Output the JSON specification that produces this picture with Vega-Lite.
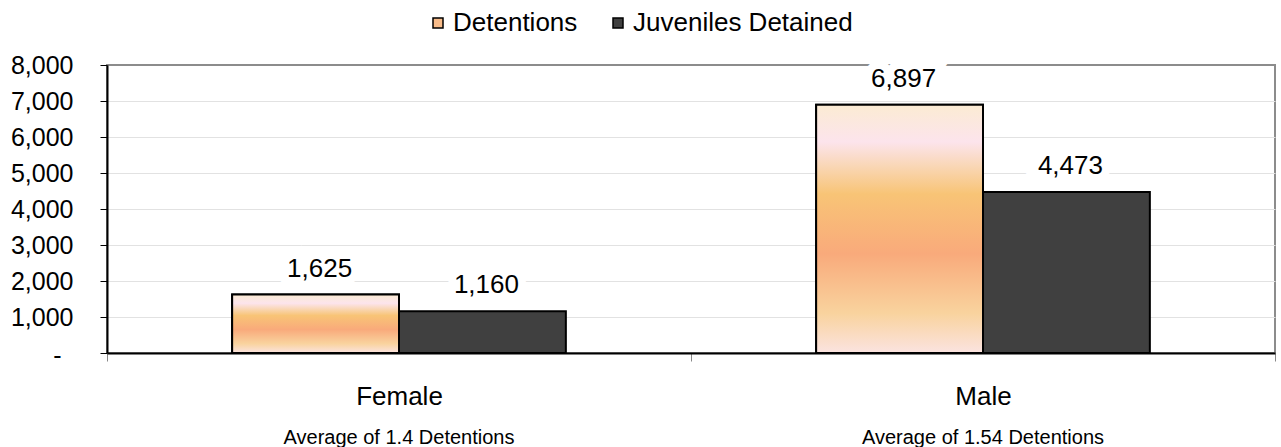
{
  "$schema": "https://vega.github.io/schema/vega-lite/v6.json",
  "width": 1168,
  "height": 288,
  "autosize": "none",
  "padding": {"left": 107, "top": 65, "right": 6, "bottom": 94},
  "config": {
    "font": "Liberation Sans",
    "view": {"stroke": "#8c8c8c", "strokeWidth": 2}
  },
  "data": {
    "values": [
      {"gender": "Female", "series": "Detentions", "value": 1625},
      {"gender": "Female", "series": "Juveniles Detained", "value": 1160},
      {"gender": "Male", "series": "Detentions", "value": 6897},
      {"gender": "Male", "series": "Juveniles Detained", "value": 4473}
    ]
  },
  "encoding": {
    "xOffset": {"field": "series", "type": "nominal", "scale": {"paddingInner": 0, "paddingOuter": 0.75}},
    "y": {
      "field": "value",
      "type": "quantitative",
      "scale": {"domain": [0, 8000]},
      "axis": {
        "title": null,
        "values": [0, 1000, 2000, 3000, 4000, 5000, 6000, 7000, 8000],
        "labelExpr": "datum.value == 0 ? '-' : format(datum.value, ',')",
        "labelFontSize": 25,
        "labelColor": "black",
        "labelPadding": {"condition": {"test": "datum.value == 0", "value": 39}, "value": 27},
        "labelOffset": {"condition": {"test": "datum.value == 0", "value": 2}, "value": 0},
        "labelFlush": false,
        "tickSize": 7,
        "tickColor": "black",
        "domainColor": "black",
        "domainWidth": 2,
        "gridColor": {"condition": {"test": "datum.value == 8000", "value": "#8c8c8c"}, "value": "#e2e2e2"},
        "gridWidth": 1
      }
    }
  },
  "layer": [
    {
      "mark": {"type": "bar", "stroke": "black", "strokeWidth": 2},
      "encoding": {
        "x": {
          "field": "gender",
          "type": "nominal",
          "scale": {"paddingInner": 0, "paddingOuter": 0},
          "axis": {
            "orient": "bottom",
            "title": null,
            "labelAngle": 0,
            "labelFontSize": 26,
            "labelColor": "black",
            "labelPadding": 22,
            "labelLimit": 0,
            "tickSize": 8,
            "tickColor": "#888888",
            "tickBand": "extent",
            "domainColor": "black",
            "domainWidth": 2,
            "grid": false
          }
        },
        "color": {
          "field": "series",
          "type": "nominal",
          "scale": {
            "domain": ["Detentions", "Juveniles Detained"],
            "range": ["#F8BC8A", "#404040"]
          },
          "legend": {
            "orient": "none",
            "legendX": 318,
            "legendY": -55,
            "direction": "horizontal",
            "title": null,
            "labelFontSize": 26,
            "labelColor": "black",
            "labelLimit": 400,
            "symbolType": "square",
            "symbolSize": 100,
            "symbolStrokeColor": "black",
            "symbolStrokeWidth": 1.5,
            "symbolOpacity": 1,
            "columnPadding": 27,
            "labelOffset": 2,
            "padding": 0
          }
        }
      }
    },
    {
      "transform": [{"filter": "datum.series == 'Detentions'"}],
      "mark": {
        "type": "bar",
        "stroke": "black",
        "strokeWidth": 2,
        "fill": {
          "gradient": "linear",
          "x1": 0, "y1": 0, "x2": 0, "y2": 1,
          "stops": [
            {"offset": 0, "color": "#FBEBD3"},
            {"offset": 0.15, "color": "#FCE4EC"},
            {"offset": 0.25, "color": "#F9D6B4"},
            {"offset": 0.36, "color": "#F8C476"},
            {"offset": 0.6, "color": "#F9AA7B"},
            {"offset": 0.84, "color": "#F9D39E"},
            {"offset": 1, "color": "#FBE3E0"}
          ]
        }
      },
      "encoding": {
        "x": {"field": "gender", "type": "nominal", "axis": null}
      }
    },
    {
      "mark": {"type": "text", "fontSize": 26, "baseline": "alphabetic", "dy": -18, "dx": 4, "fill": "white", "stroke": "white", "strokeWidth": 16},
      "encoding": {
        "x": {"field": "gender", "type": "nominal", "axis": null},
        "text": {"field": "value", "type": "quantitative", "format": ","}
      }
    },
    {
      "mark": {"type": "text", "fontSize": 26, "baseline": "alphabetic", "dy": -18, "dx": 4, "color": "black"},
      "encoding": {
        "x": {
          "field": "gender",
          "type": "nominal",
          "axis": {
            "orient": "bottom",
            "title": null,
            "labelAngle": 0,
            "labelFontSize": 20,
            "labelColor": "black",
            "labelPadding": 74,
            "labelLimit": 0,
            "labelExpr": "datum.label == 'Female' ? 'Average of 1.4 Detentions' : 'Average of 1.54 Detentions'",
            "ticks": false,
            "tickSize": 0,
            "domain": false,
            "grid": false
          }
        },
        "text": {"field": "value", "type": "quantitative", "format": ","}
      }
    }
  ],
  "resolve": {"axis": {"x": "independent"}}
}
